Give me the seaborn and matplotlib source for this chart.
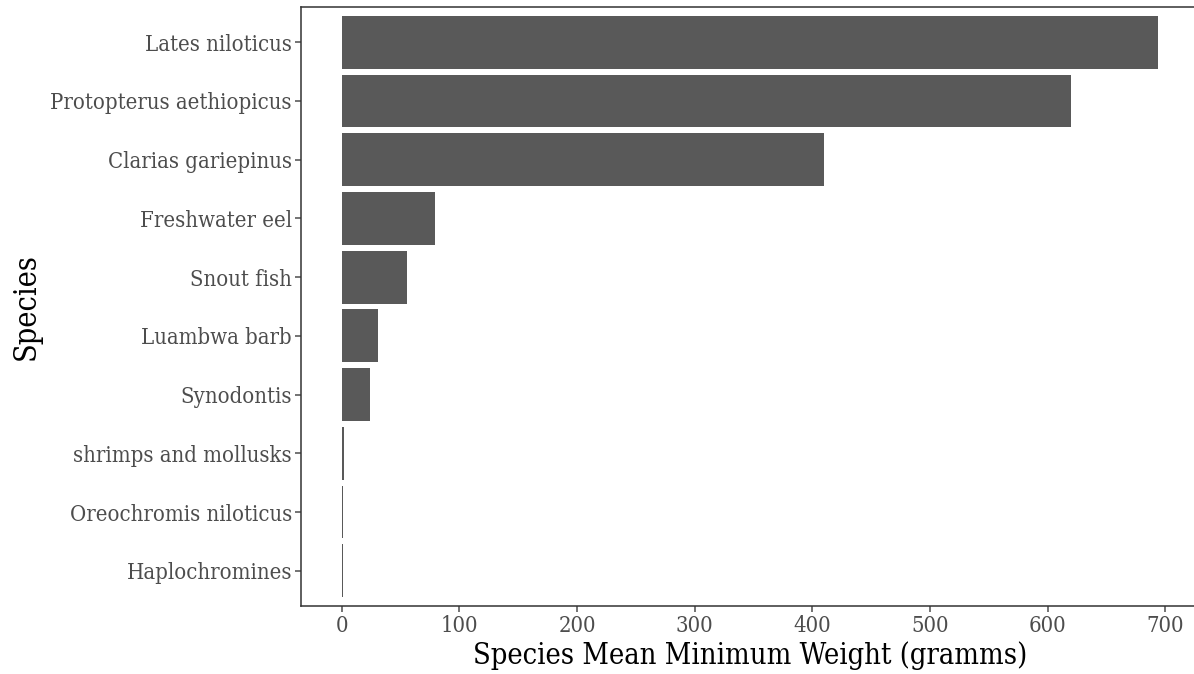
import matplotlib
matplotlib.use("Agg")
import matplotlib.pyplot as plt
import seaborn as sns
import pandas as pd

# --- Data ---
species = [
    "Lates niloticus",
    "Protopterus aethiopicus",
    "Clarias gariepinus",
    "Freshwater eel",
    "Snout fish",
    "Luambwa barb",
    "Synodontis",
    "shrimps and mollusks",
    "Oreochromis niloticus",
    "Haplochromines",
]
mean_min_weight = [694, 620, 410, 79, 55, 31, 24, 2.2, 0.8, 0.6]

df = pd.DataFrame({"species": species, "weight": mean_min_weight})

sns.set_style("white")
plt.rcParams["font.family"] = ["DejaVu Serif"]
plt.rcParams["font.stretch"] = "condensed"

fig = plt.figure(figsize=(11.94, 6.74), dpi=100)
ax = fig.add_axes([301 / 1194, 68 / 674, 898 / 1194, 599 / 674])

sns.barplot(data=df, x="weight", y="species", order=species, orient="h",
            color="#595959", saturation=1, width=0.9, linewidth=0, ax=ax)

xmax = max(mean_min_weight)
ax.set_xlim(-0.05 * xmax, 1.05 * xmax)
ax.set_ylim(len(species) - 1 + 0.6, -0.6)
ax.set_xticks([0, 100, 200, 300, 400, 500, 600, 700])

ax.set_xlabel("Species Mean Minimum Weight (gramms)", fontsize=20.8, color="black", labelpad=3)
ax.set_ylabel("Species", fontsize=22, color="black")
ax.yaxis.set_label_coords(-0.289, 0.5)
ax.tick_params(axis="both", labelsize=15.8, colors="#4D4D4D", length=4, width=1.1,
               direction="out", left=True, bottom=True, pad=2.5)
for s in ax.spines.values():
    s.set_color("#333333")
    s.set_linewidth(1.1)

fig.savefig("out.png", dpi=100)
